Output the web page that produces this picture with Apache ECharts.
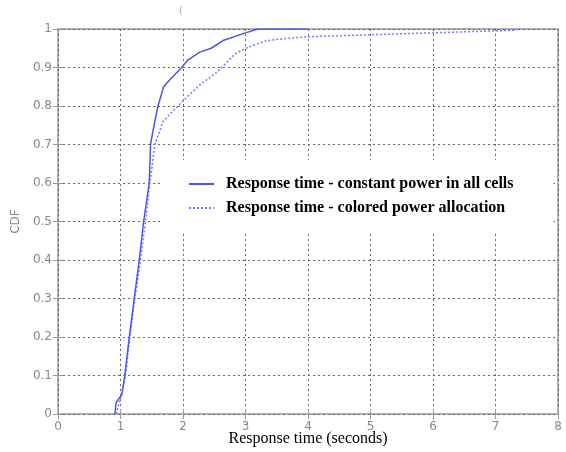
<!DOCTYPE html>
<html>
<head>
<meta charset="utf-8">
<script src="https://cdn.jsdelivr.net/npm/echarts@6/dist/echarts.min.js"></script>
<style>
  html, body { margin: 0; padding: 0; background: #fff; }
  #chart { width: 566px; height: 452px; }
</style>
</head>
<body>
<div id="chart"></div>
<script>
  // constant power in all cells
  var solidX = [0.91, 0.93, 0.96, 1.02, 1.07, 1.14, 1.22, 1.30, 1.37, 1.46, 1.48, 1.56, 1.60, 1.69, 1.80, 1.98, 2.08, 2.27, 2.45, 2.64, 3.00, 3.20, 4.00];
  var solidY = [0, 0.03, 0.03, 0.05, 0.10, 0.20, 0.30, 0.40, 0.50, 0.60, 0.70, 0.77, 0.80, 0.85, 0.87, 0.90, 0.92, 0.94, 0.95, 0.97, 0.99, 1.00, 1.00];
  // colored power allocation
  var dottedX = [0.93, 0.98, 1.03, 1.08, 1.15, 1.23, 1.32, 1.40, 1.47, 1.55, 1.68, 1.98, 2.27, 2.56, 2.83, 3.00, 3.34, 3.70, 4.00, 5.00, 6.00, 7.34];
  var dottedY = [0, 0.03, 0.06, 0.10, 0.20, 0.30, 0.40, 0.50, 0.60, 0.70, 0.76, 0.81, 0.855, 0.89, 0.935, 0.95, 0.97, 0.976, 0.98, 0.985, 0.99, 0.997];
  var seriesNames = ['Response time - constant power in all cells', 'Response time - colored power allocation'];

  function pairs(xs, ys) {
    var out = [];
    for (var i = 0; i < xs.length; i++) out.push([xs[i], ys[i]]);
    return out;
  }

  var gridLine = { show: true, lineStyle: { color: '#666', type: [2, 3], width: 1 } };
  var tickLbl = { color: '#888', fontSize: 12, fontFamily: 'DejaVu Sans' };

  var option = {
    animation: false,
    backgroundColor: '#fff',
    grid: {
      left: 58, right: 8, top: 29, bottom: 37,
      show: true, borderColor: '#999', borderWidth: 1.5, backgroundColor: 'transparent'
    },
    graphic: [{
      type: 'text', left: 179, top: 6,
      style: { text: '(', fill: '#aaa', font: '10px DejaVu Sans' }
    }],
    legend: {
      orient: 'vertical',
      left: 163, top: 160,
      padding: [16, 40, 17, 25],
      itemGap: 8,
      itemWidth: 25, itemHeight: 14,
      backgroundColor: '#fff',
      z: 10,
      itemStyle: { opacity: 0 },
      textStyle: { fontFamily: 'Liberation Serif', fontWeight: 'bold', fontSize: 16, color: '#000', padding: [0, 0, 0, 7] },
      data: seriesNames
    },
    xAxis: [{
      type: 'value', min: 0, max: 8, interval: 1,
      name: 'Response time (seconds)', nameLocation: 'middle', nameGap: 17, nameMoveOverlap: false,
      nameTextStyle: { fontFamily: 'Liberation Serif', fontSize: 16, color: '#000' },
      axisLine: { show: false },
      axisTick: { show: true, inside: true, length: 5, lineStyle: { color: '#999' } },
      axisLabel: Object.assign({ margin: 7 }, tickLbl),
      splitLine: gridLine
    }, {
      type: 'value', min: 0, max: 8, interval: 1, position: 'top',
      axisLine: { show: false },
      axisTick: { show: true, inside: true, length: 5, lineStyle: { color: '#999' } },
      axisLabel: { show: false },
      splitLine: { show: false }
    }],
    yAxis: [{
      type: 'value', min: 0, max: 1, interval: 0.1,
      name: 'CDF', nameLocation: 'middle', nameGap: 36, nameRotate: 90, nameMoveOverlap: false,
      nameTextStyle: { fontFamily: 'DejaVu Sans', fontSize: 12, color: '#888' },
      axisLine: { show: false },
      axisTick: { show: true, inside: true, length: 5, lineStyle: { color: '#999' } },
      axisLabel: Object.assign({ margin: 6, formatter: function (v) { return String(Math.round(v * 10) / 10); } }, tickLbl),
      splitLine: gridLine
    }, {
      type: 'value', min: 0, max: 1, interval: 0.1, position: 'right',
      axisLine: { show: false },
      axisTick: { show: true, inside: true, length: 5, lineStyle: { color: '#999' } },
      axisLabel: { show: false },
      splitLine: { show: false }
    }],
    series: [{
      name: seriesNames[0],
      type: 'line',
      symbol: 'none',
      z: 3,
      lineStyle: { color: '#4a55f0', width: 1.5, type: 'solid' },
      itemStyle: { color: '#4a55f0' },
      data: pairs(solidX, solidY)
    }, {
      name: seriesNames[1],
      type: 'line',
      symbol: 'none',
      z: 2,
      lineStyle: { color: '#6f7cff', width: 1.5, type: [2, 2] },
      itemStyle: { color: '#6f7cff' },
      data: pairs(dottedX, dottedY)
    }]
  };

  var chartDom = echarts.init(document.getElementById('chart'));
  chartDom.setOption(option);
</script>
</body>
</html>
